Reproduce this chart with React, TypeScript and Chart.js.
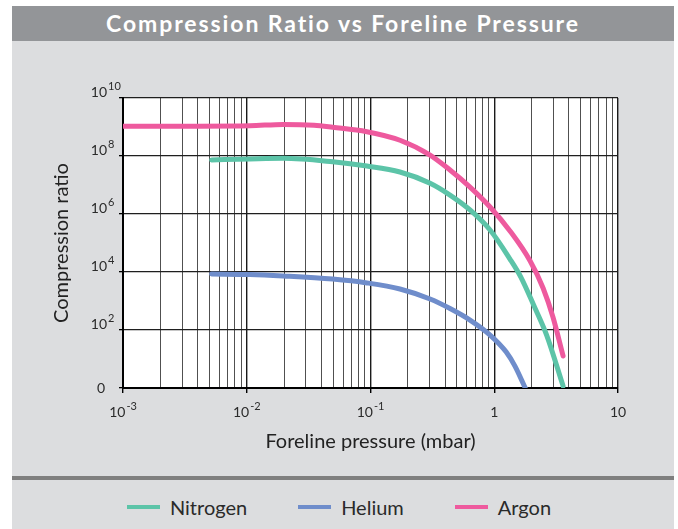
import React, { useEffect, useRef } from "react";
import { Chart, registerables } from "chart.js";

Chart.register(...registerables);

const FONT = "Lato, 'Open Sans', sans-serif";

const chartTitle = "Compression Ratio vs Foreline Pressure";
const xAxisTitle = "Foreline pressure (mbar)";
const yAxisTitle = "Compression ratio";

const seriesNames = ["Nitrogen", "Helium", "Argon"];
const seriesColors = ["#5cc4a8", "#6f8dcb", "#ee5a9e"];

const nitrogenPressure = [0.0052, 0.0106, 0.0197, 0.0495, 0.0935, 0.173, 0.303, 0.439, 0.637, 0.925, 1.34, 1.64, 2.08, 2.65, 3.6];
const nitrogenRatio = [7.3e7, 7.9e7, 8.3e7, 6.3e7, 4.5e7, 2.8e7, 1.15e7, 4.5e6, 1.38e6, 2.8e5, 2.8e4, 6.7e3, 730, 67, 1.17];

const heliumPressure = [0.0052, 0.0106, 0.0197, 0.0495, 0.0935, 0.173, 0.303, 0.439, 0.637, 0.925, 1.25, 1.47, 1.78];
const heliumRatio = [8500, 8200, 7300, 5700, 4200, 2600, 1170, 550, 220, 67, 17.4, 5.7, 1];

const argonPressure = [0.001, 0.004, 0.0106, 0.0197, 0.035, 0.0495, 0.0935, 0.173, 0.303, 0.439, 0.637, 0.925, 1.34, 1.95, 2.48, 2.98, 3.6];
const argonRatio = [1.07e9, 1.07e9, 1.1e9, 1.23e9, 1.15e9, 9.8e8, 6.9e8, 3.5e8, 1.08e8, 3.3e7, 8.5e6, 1.75e6, 2.6e5, 2.4e4, 2.8e3, 280, 12.7];

const seriesPressure = [nitrogenPressure, heliumPressure, argonPressure];
const seriesRatio = [nitrogenRatio, heliumRatio, argonRatio];

const xTickValues = [0.001, 0.01, 0.1, 1, 10];
const xTickLabels = ["10^-3", "10^-2", "10^-1", "1", "10"];
const yTickValues = [1, 1e2, 1e4, 1e6, 1e8, 1e10];
const yTickLabels = ["0", "10^2", "10^4", "10^6", "10^8", "10^10"];

const isDecade = (v: number) => {
  const l = Math.log10(v);
  return Math.abs(l - Math.round(l)) < 1e-9;
};

// grid positions: 1..9 times each decade between the labelled ticks
const xGridValues: number[] = [];
for (let i = 0; i < xTickValues.length - 1; i++) {
  for (let m = 1; m <= 9; m++) xGridValues.push(xTickValues[i] * m);
}
xGridValues.push(xTickValues[xTickValues.length - 1]);

const plotBackground = {
  id: "plotBackground",
  beforeDraw(chart: any) {
    const { ctx, chartArea } = chart;
    ctx.save();
    ctx.fillStyle = "#ffffff";
    ctx.fillRect(chartArea.left, chartArea.top, chartArea.right - chartArea.left, chartArea.bottom - chartArea.top);
    ctx.restore();
  },
};

const powerLabels = {
  id: "powerLabels",
  afterDraw(chart: any) {
    const ctx = chart.ctx;
    const { left, bottom } = chart.chartArea;
    const xs = chart.scales.x;
    const ys = chart.scales.y;
    const baseFont = "14px " + FONT;
    const expFont = "11px " + FONT;
    ctx.save();
    ctx.fillStyle = "#2b2b2b";
    xTickValues.forEach((v, i) => {
      const [b, e] = xTickLabels[i].split("^");
      ctx.font = baseFont;
      const bw = ctx.measureText(b).width;
      ctx.font = expFont;
      const ew = e ? ctx.measureText(e).width + 1 : 0;
      const px = xs.getPixelForValue(v);
      const x0 = px - (bw + ew) / 2;
      ctx.textAlign = "left";
      ctx.textBaseline = "alphabetic";
      ctx.font = baseFont;
      ctx.fillText(b, x0, bottom + 29);
      if (e) {
        ctx.font = expFont;
        ctx.fillText(e, x0 + bw + 1, bottom + 22);
      }
    });
    yTickValues.forEach((v, i) => {
      const [b, e] = yTickLabels[i].split("^");
      const py = ys.getPixelForValue(v);
      ctx.font = baseFont;
      ctx.textAlign = "right";
      if (!e) {
        ctx.textBaseline = "middle";
        ctx.fillText(b, left - 18, py);
        return;
      }
      ctx.textBaseline = "alphabetic";
      ctx.fillText(b, left - 16, py - 1);
      ctx.font = expFont;
      ctx.textAlign = "left";
      ctx.fillText(e, left - 15, py - 8);
    });
    ctx.restore();
  },
};

export default function App() {
  const ref = useRef<HTMLCanvasElement>(null);

  useEffect(() => {
    if (!ref.current) return;
    const chart = new Chart(ref.current, {
      type: "line",
      data: {
        datasets: seriesNames.map((name, s) => ({
          label: name,
          data: seriesPressure[s].map((p, i) => ({ x: p, y: seriesRatio[s][i] })),
          borderColor: seriesColors[s],
          backgroundColor: seriesColors[s],
          borderWidth: 5,
          pointRadius: 0,
          fill: false,
          cubicInterpolationMode: "monotone",
          borderCapStyle: "round",
          borderJoinStyle: "round",
        })),
      },
      options: {
        animation: false,
        responsive: false,
        maintainAspectRatio: false,
        layout: { padding: { left: 0, right: 60, top: 98, bottom: 0 } },
        plugins: { legend: { display: false }, tooltip: { enabled: false } },
        scales: {
          x: {
            type: "logarithmic",
            min: 0.001,
            max: 10,
            afterBuildTicks: (s: any) => {
              s.ticks = xGridValues.map((v) => ({ value: v }));
            },
            afterFit: (s: any) => {
              s.height = 82;
            },
            ticks: { display: false, autoSkip: false },
            grid: {
              color: (c: any) => (c.tick && isDecade(c.tick.value) ? "#1a1a1a" : "#505050"),
              lineWidth: (c: any) => (c.tick && isDecade(c.tick.value) ? 1.4 : 1),
              drawTicks: true,
              tickLength: 5,
              tickColor: (c: any) => (c.tick && isDecade(c.tick.value) ? "#000" : "rgba(0,0,0,0)"),
            },
            border: { display: true, color: "#000", width: 2 },
            title: {
              display: true,
              text: xAxisTitle,
              color: "#222",
              font: { family: FONT, size: 20 },
              padding: { top: 0, bottom: 16 },
            },
          },
          y: {
            type: "logarithmic",
            min: 1,
            max: 1e10,
            afterBuildTicks: (s: any) => {
              s.ticks = yTickValues.map((v) => ({ value: v }));
            },
            afterFit: (s: any) => {
              s.width = 123;
            },
            ticks: { display: false, autoSkip: false },
            grid: {
              color: "#1f1f1f",
              lineWidth: 1.3,
              drawTicks: true,
              tickLength: 4,
              tickColor: "#000",
            },
            border: { display: true, color: "#000", width: 2 },
            title: {
              display: true,
              text: yAxisTitle,
              color: "#222",
              font: { family: FONT, size: 20 },
              padding: { top: 50, bottom: 0 },
            },
          },
        },
      } as any,
      plugins: [plotBackground, powerLabels],
    });
    return () => chart.destroy();
  }, []);

  return (
    <div
      style={{
        position: "absolute",
        left: 0,
        top: 0,
        width: 678,
        height: 529,
        background: "#ffffff",
        overflow: "hidden",
        fontFamily: FONT,
      }}
    >
      <div style={{ position: "absolute", left: 12, top: 6, width: 662, height: 523, background: "#dcdddf" }} />
      <div
        style={{
          position: "absolute",
          left: 12,
          top: 6,
          width: 662,
          height: 35,
          background: "#939598",
          color: "#ffffff",
          fontWeight: 700,
          fontSize: 23,
          letterSpacing: 1.9,
          lineHeight: "35px",
          textAlign: "center",
          whiteSpace: "nowrap",
        }}
      >
        {chartTitle}
      </div>
      <canvas
        ref={ref}
        width={678}
        height={470}
        style={{ position: "absolute", left: 0, top: 0, width: 678, height: 470 }}
      />
      <div style={{ position: "absolute", left: 12, top: 476, width: 662, height: 4, background: "#7f7f7f" }} />
      <div
        style={{
          position: "absolute",
          left: 0,
          top: 494,
          width: 678,
          height: 26,
          display: "flex",
          justifyContent: "center",
          alignItems: "center",
        }}
      >
        {seriesNames.map((n, i) => (
          <div key={n} style={{ display: "flex", alignItems: "center", marginLeft: i ? 51 : 0 }}>
            <span style={{ display: "inline-block", width: 33, height: 4, background: seriesColors[i], marginRight: 10 }} />
            <span style={{ fontSize: 20, color: "#2a2a2a", lineHeight: "26px" }}>{n}</span>
          </div>
        ))}
      </div>
    </div>
  );
}
